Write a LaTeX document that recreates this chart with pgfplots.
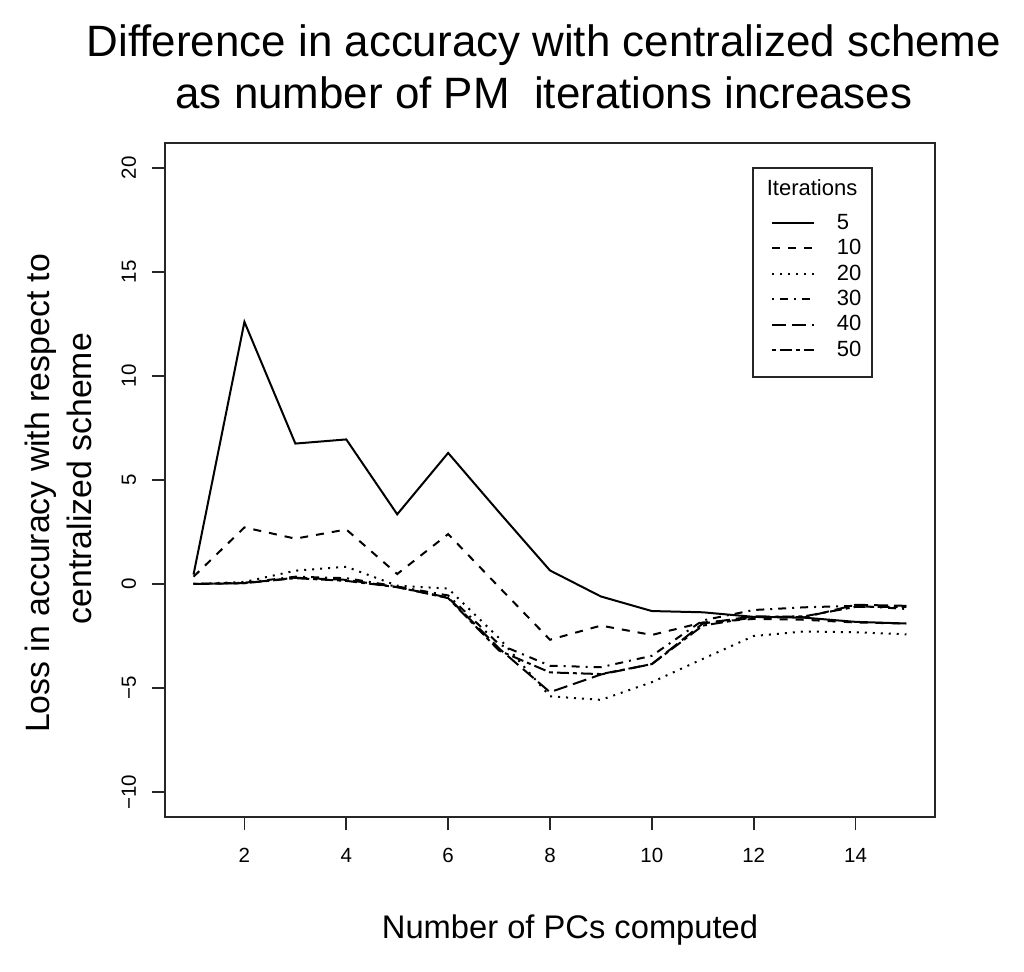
\documentclass[border=0pt]{standalone}
\usepackage{fontspec}
\setmainfont{Liberation Sans}
\usepackage{pgfplots}
\pgfplotsset{compat=1.18}
\begin{document}
\begin{tikzpicture}
\path[use as bounding box] (-82.5pt,-77.5pt) rectangle (429.5pt,408.5pt);
\begin{axis}[
  at={(0pt,0pt)}, anchor=south west,
  scale only axis, width=385pt, height=337pt, clip=false,
  xmin=0.44, xmax=15.56, ymin=-11.2, ymax=21.2,
  xtick={2,4,6,8,10,12,14},
  ytick={-10,-5,0,5,10,15,20},
  yticklabels={−10,−5,0,5,10,15,20},
  tick pos=left, tick align=outside, major tick length=6.7pt,
  axis line style={line width=0.8pt, black!85},
  every tick/.style={line width=0.8pt, black!85},
  /pgf/number format/assume math mode=true,
  tick label style={font=\fontsize{10.25}{12}\selectfont},
  xticklabel style={anchor=north, inner sep=0pt},
  yticklabel style={rotate=90, anchor=south, inner sep=0pt},
  xticklabel shift=8.6pt, yticklabel shift=7.6pt,
  legend cell align=left,
  legend image code/.code={\path (0pt,0pt); \draw[#1] (5pt,0pt) -- (26pt,0pt);},
  legend style={draw=none, fill=none,
    at={(0.918,0.895)}, anchor=north east,
    inner xsep=5pt, inner ysep=0pt, row sep=3.5pt, column sep=11pt,
    font=\fontsize{11}{13}\selectfont,
    nodes={inner sep=0pt}, cells={anchor=west}},
]
\draw[black!85, line width=0.7pt, fill=white]
  (axis description cs:0.7636,0.6528) rectangle (axis description cs:0.9182,0.9629);
\node[font=\fontsize{11}{13}\selectfont, inner sep=0pt]
  at (axis description cs:0.8403,0.9332) {Iterations};

\addplot[black, line width=1pt] coordinates {
(1,0.45) (2,12.6) (3,6.75) (4,6.95) (5,3.35) (6,6.3) (7,3.45) (8,0.65)
(9,-0.6) (10,-1.3) (11,-1.36) (12,-1.58) (13,-1.62) (14,-1.82) (15,-1.9)};
\addlegendentry{5}

\addplot[black, line width=1pt, dash pattern=on 4pt off 4pt] coordinates {
(1,0.35) (2,2.72) (3,2.18) (4,2.62) (5,0.48) (6,2.4) (7,-0.15) (8,-2.68)
(9,-2.0) (10,-2.45) (11,-1.85) (12,-1.68) (13,-1.72) (14,-1.85) (15,-1.9)};
\addlegendentry{10}

\addplot[black, line width=1pt, dash pattern=on 1pt off 3pt] coordinates {
(1,0.0) (2,0.1) (3,0.64) (4,0.83) (5,-0.08) (6,-0.22) (7,-2.6) (8,-5.4)
(9,-5.57) (10,-4.72) (11,-3.6) (12,-2.5) (13,-2.28) (14,-2.32) (15,-2.42)};
\addlegendentry{20}

\addplot[black, line width=1pt, dash pattern=on 1pt off 3pt on 4pt off 3pt] coordinates {
(1,0.0) (2,0.06) (3,0.35) (4,0.28) (5,-0.12) (6,-0.55) (7,-2.9) (8,-3.93)
(9,-4.0) (10,-3.45) (11,-1.75) (12,-1.25) (13,-1.12) (14,-1.05) (15,-1.2)};
\addlegendentry{30}

\addplot[black, line width=1pt, dash pattern=on 7pt off 3pt] coordinates {
(1,0.0) (2,0.04) (3,0.3) (4,0.2) (5,-0.15) (6,-0.65) (7,-3.1) (8,-5.2)
(9,-4.35) (10,-3.85) (11,-1.9) (12,-1.55) (13,-1.6) (14,-1.0) (15,-1.05)};
\addlegendentry{40}

\addplot[black, line width=1pt, dash pattern=on 2pt off 2pt on 6pt off 2pt] coordinates {
(1,0.0) (2,0.04) (3,0.28) (4,0.15) (5,-0.15) (6,-0.68) (7,-3.2) (8,-4.25)
(9,-4.33) (10,-3.85) (11,-2.0) (12,-1.6) (13,-1.55) (14,-1.1) (15,-1.1)};
\addlegendentry{50}

\node[anchor=base, font=\fontsize{21.95}{26}\selectfont, xshift=-3pt, yshift=43.2pt]
  at (rel axis cs:0.5,1) {Difference in accuracy with centralized scheme};
\node[anchor=base, font=\fontsize{21.95}{26}\selectfont, xshift=-3pt, yshift=17.3pt]
  at (rel axis cs:0.5,1) {as number of PM~ iterations increases};
\node[anchor=base, font=\fontsize{16.35}{20}\selectfont, yshift=-60.65pt]
  at (rel axis cs:0.526,0) {Number of PCs computed};
\node[xshift=-57.5pt, rotate=90, anchor=base, font=\fontsize{16.9}{20}\selectfont]
  at (rel axis cs:0,0.48) {Loss in accuracy with respect to};
\node[xshift=-36.65pt, rotate=90, anchor=base, font=\fontsize{16.9}{20}\selectfont]
  at (rel axis cs:0,0.502) {centralized scheme};
\end{axis}
\end{tikzpicture}
\end{document}
